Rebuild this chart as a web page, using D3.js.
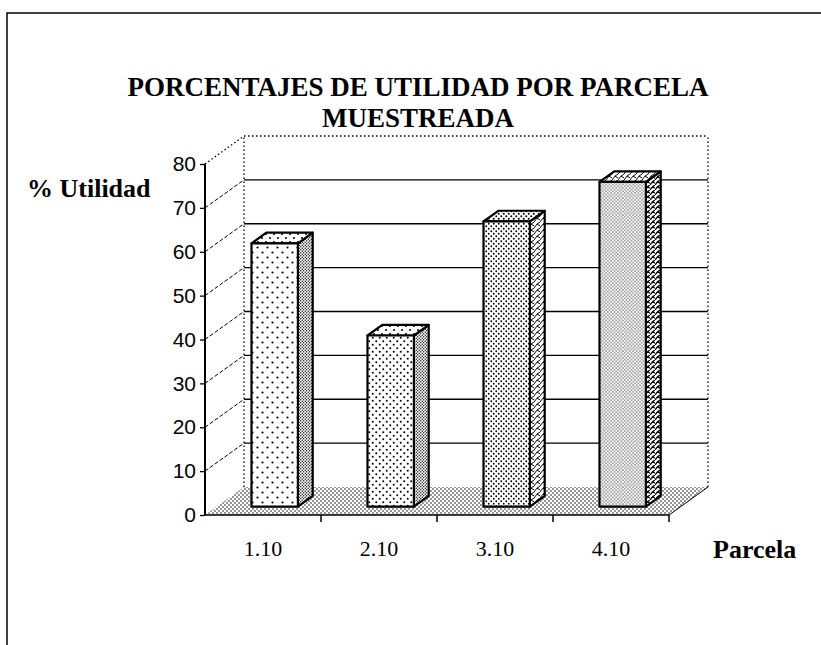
<!DOCTYPE html>
<html>
<head>
<meta charset="utf-8">
<script src="https://cdn.jsdelivr.net/npm/d3@7"></script>
<style>
	body { margin: 0; background: #fff; }
	text { fill: #000; }
	.title { font-family: "Liberation Serif", "Times New Roman", serif; font-weight: bold; font-size: 27px; }
	.axisTitle { font-family: "Liberation Serif", "Times New Roman", serif; font-weight: bold; font-size: 26px; }
	.tickLabel { font-family: "Liberation Sans", Arial, sans-serif; font-size: 21px; }
	.catLabel { font-family: "Liberation Serif", "Times New Roman", serif; font-size: 22px; }
</style>
</head>
<body>
<div id="chart"></div>
<script>
var width = 821;
var height = 645;

// data
var categories = ["1.10", "2.10", "3.10", "4.10"];
var values = [60, 39, 65, 74];
var yTicks = [0, 10, 20, 30, 40, 50, 60, 70, 80];
var titleLines = ["PORCENTAJES DE UTILIDAD POR PARCELA", "MUESTREADA"];

// depth of the 3d box (back wall offset) and where the bars sit in it
var depthX = 39,
	depthY = -28;
var barFront = 0.3,
	barBack = 0.68;

var svg = d3.select("#chart")
	.append("svg")
	.attr("width", width)
	.attr("height", height);

var x = d3.scaleBand()
	.domain(categories)
	.range([205, 669])
	.paddingInner(0.6)
	.paddingOuter(0.3);

var y = d3.scaleLinear()
	.domain([0, 80])
	.range([515, 164]);

var step = x.step();
var left = x.range()[0],
	right = x.range()[1];

function pt(px, py, f) {
	return [px + f * depthX, py + f * depthY];
}

// patterns
var defs = svg.append("defs");

function dotPattern(id, size, r, stagger, color) {
	var p = defs.append("pattern")
		.attr("id", id)
		.attr("patternUnits", "userSpaceOnUse")
		.attr("width", size)
		.attr("height", size);
	p.append("rect").attr("width", size).attr("height", size).attr("fill", "#fff");
	p.append("circle").attr("cx", size / 4).attr("cy", size / 4).attr("r", r).attr("fill", color);
	if (stagger) {
		p.append("circle").attr("cx", size * 3 / 4).attr("cy", size * 3 / 4).attr("r", r).attr("fill", color);
	}
}

function wavePattern(id, size, sw) {
	// small diagonal zigzag, like the scanned hatching
	var p = defs.append("pattern")
		.attr("id", id)
		.attr("patternUnits", "userSpaceOnUse")
		.attr("width", size)
		.attr("height", size);
	p.append("rect").attr("width", size).attr("height", size).attr("fill", "#fff");
	p.append("path")
		.attr("d", "M0," + size + " L" + (size * 0.5) + "," + (size * 0.35) + " L" + size + "," + (size * 0.65) +
			" M" + (size * 0.5) + "," + (size * 0.35) + " L" + size + ",0")
		.attr("fill", "none")
		.attr("stroke", "#000")
		.attr("stroke-width", sw);
}

dotPattern("front1", 10, 1.1, true, "#000");
dotPattern("front2", 7, 1.0, true, "#000");
dotPattern("front3", 5, 0.9, true, "#000");
dotPattern("front4", 3.4, 0.6, true, "#000");
dotPattern("side", 3, 0.7, true, "#000");
dotPattern("top1", 8, 1.0, true, "#000");
dotPattern("top3", 5, 1.0, true, "#000");
dotPattern("floor", 4, 0.8, true, "#111");
wavePattern("wave1", 6, 1.0);
wavePattern("wave2", 5, 1.3);

var frontFill = ["url(#front1)", "url(#front2)", "url(#front3)", "url(#front4)"];
var sideFill = ["url(#side)", "url(#side)", "url(#wave1)", "url(#wave2)"];
var topFill = ["url(#top1)", "url(#top1)", "url(#top3)", "url(#wave1)"];

// outer frame (top and left edges only, the rest is cropped)
svg.append("path")
	.attr("d", "M7,645 L7,13 L821,13")
	.attr("fill", "none")
	.attr("stroke", "#000")
	.attr("stroke-width", 1.5);

// title
svg.selectAll(".title")
	.data(titleLines)
	.enter()
	.append("text")
	.attr("class", "title")
	.attr("x", 418)
	.attr("y", function(d, i) { return 96 + i * 31; })
	.attr("text-anchor", "middle")
	.text(function(d) { return d; });

// floor
var floorPts = [pt(left, y(0), 0), pt(right, y(0), 0), pt(right, y(0), 1), pt(left, y(0), 1)];
svg.append("polygon")
	.attr("points", floorPts.map(function(p) { return p.join(","); }).join(" "))
	.attr("fill", "url(#floor)")
	.attr("stroke", "none");

// walls outline (dotted)
var wallLines = [
	[pt(left, y(0), 1), pt(left, y(80), 1)],
	[pt(right, y(0), 1), pt(right, y(80), 1)],
	[pt(left, y(80), 1), pt(right, y(80), 1)],
	[pt(left, y(80), 0), pt(left, y(80), 1)]
];
svg.selectAll(".wallLine")
	.data(wallLines)
	.enter()
	.append("line")
	.attr("class", "wallLine")
	.attr("x1", function(d) { return d[0][0]; })
	.attr("y1", function(d) { return d[0][1]; })
	.attr("x2", function(d) { return d[1][0]; })
	.attr("y2", function(d) { return d[1][1]; })
	.attr("stroke", "#000")
	.attr("stroke-width", 1.3)
	.attr("stroke-dasharray", "1.5,2.5");

// gridlines: diagonal on the side wall, horizontal on the back wall
var gridTicks = yTicks.filter(function(t) { return t > 0 && t < 80; });

svg.selectAll(".sideGrid")
	.data(gridTicks)
	.enter()
	.append("line")
	.attr("class", "sideGrid")
	.attr("x1", left)
	.attr("y1", function(d) { return y(d); })
	.attr("x2", left + depthX)
	.attr("y2", function(d) { return y(d) + depthY; })
	.attr("stroke", "#000")
	.attr("stroke-width", 1)
	.attr("stroke-dasharray", "4,2");

svg.selectAll(".backGrid")
	.data(gridTicks)
	.enter()
	.append("line")
	.attr("class", "backGrid")
	.attr("x1", left + depthX)
	.attr("y1", function(d) { return y(d) + depthY; })
	.attr("x2", right + depthX)
	.attr("y2", function(d) { return y(d) + depthY; })
	.attr("stroke", "#000")
	.attr("stroke-width", 1.4);

// floor edges
svg.append("line")
	.attr("x1", left).attr("y1", y(0))
	.attr("x2", right).attr("y2", y(0))
	.attr("stroke", "#000")
	.attr("stroke-width", 1.5);
svg.append("line")
	.attr("x1", right).attr("y1", y(0))
	.attr("x2", right + depthX).attr("y2", y(0) + depthY)
	.attr("stroke", "#000")
	.attr("stroke-width", 1);

// category ticks at band edges
svg.selectAll(".catTick")
	.data(categories)
	.enter()
	.append("line")
	.attr("class", "catTick")
	.attr("x1", function(d) { return x(d) - x.step() * x.paddingOuter() + step; })
	.attr("x2", function(d) { return x(d) - x.step() * x.paddingOuter() + step; })
	.attr("y1", y(0))
	.attr("y2", y(0) + 7)
	.attr("stroke", "#000")
	.attr("stroke-width", 1.5);

// y axis
var yAxis = d3.axisLeft(y)
	.tickValues(yTicks)
	.tickSize(5)
	.tickPadding(4)
	.tickFormat(d3.format("d"));

var yAxisG = svg.append("g")
	.attr("transform", "translate(" + left + ",0)")
	.call(yAxis);
yAxisG.select(".domain")
	.attr("d", "M0," + y(80) + "V" + y(0))
	.attr("stroke", "#000")
	.attr("stroke-width", 2);
yAxisG.selectAll(".tick line").attr("stroke", "#000").attr("stroke-width", 1.3);
yAxisG.selectAll(".tick text")
	.attr("class", "tickLabel");
yAxisG.attr("font-family", null).attr("font-size", null);

// bars
var bars = svg.selectAll(".bar")
	.data(categories.map(function(c, i) { return {cat: c, value: values[i], i: i}; }))
	.enter()
	.append("g")
	.attr("class", "bar");

function poly(sel, fn, fill) {
	sel.append("polygon")
		.attr("points", function(d) { return fn(d).map(function(p) { return p.join(","); }).join(" "); })
		.attr("fill", fill)
		.attr("stroke", "#000")
		.attr("stroke-width", 2.2)
		.attr("stroke-linejoin", "round");
}

// side face
poly(bars, function(d) {
	var x1 = x(d.cat) + x.bandwidth();
	return [pt(x1, y(0), barFront), pt(x1, y(0), barBack), pt(x1, y(d.value), barBack), pt(x1, y(d.value), barFront)];
}, function(d) { return sideFill[d.i]; });

// top face
poly(bars, function(d) {
	var x0 = x(d.cat), x1 = x(d.cat) + x.bandwidth();
	return [pt(x0, y(d.value), barFront), pt(x1, y(d.value), barFront), pt(x1, y(d.value), barBack), pt(x0, y(d.value), barBack)];
}, function(d) { return topFill[d.i]; });

// front face
poly(bars, function(d) {
	var x0 = x(d.cat), x1 = x(d.cat) + x.bandwidth();
	return [pt(x0, y(0), barFront), pt(x1, y(0), barFront), pt(x1, y(d.value), barFront), pt(x0, y(d.value), barFront)];
}, function(d) { return frontFill[d.i]; });

// category labels
svg.selectAll(".catLabel")
	.data(categories)
	.enter()
	.append("text")
	.attr("class", "catLabel")
	.attr("x", function(d) { return x(d) + x.bandwidth() / 2; })
	.attr("y", 556)
	.attr("text-anchor", "middle")
	.text(function(d) { return d; });

// axis titles
svg.append("text")
	.attr("class", "axisTitle")
	.attr("x", 27)
	.attr("y", 197)
	.text("% Utilidad");

svg.append("text")
	.attr("class", "axisTitle")
	.attr("x", 713)
	.attr("y", 558)
	.text("Parcela");
</script>
</body>
</html>
